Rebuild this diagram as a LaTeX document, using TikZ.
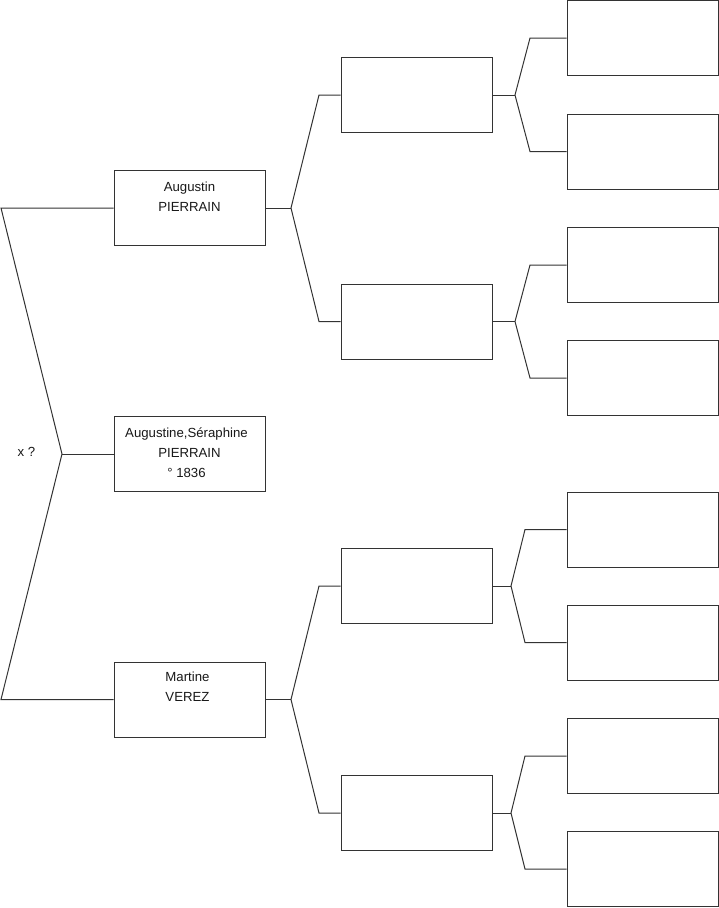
\documentclass[tikz,border=0pt]{standalone}
\usepackage{fontspec}
\setmainfont{Liberation Sans}
\begin{document}
\begin{tikzpicture}[x=1pt,y=-1pt,
  person/.style={draw=black!80, line width=1pt, minimum width=151pt, minimum height=75pt, inner sep=0pt, fill=white},
  ln/.style={font=\fontsize{13.2}{15}\selectfont, inner sep=0pt, anchor=base, text=black!90},
  wire/.style={draw=black!80, line width=1pt}]
\useasboundingbox (0,0) rectangle (719,908);
% generation 1
\node[person] (g1a) at (189.5,208) {};
\node[person] (g1b) at (189.5,454) {};
\node[person] (g1c) at (189.5,699.5) {};
% generation 2
\node[person] (g2a) at (416.5,95) {};
\node[person] (g2b) at (416.5,321.5) {};
\node[person] (g2c) at (416.5,586) {};
\node[person] (g2d) at (416.5,813) {};
% generation 3
\node[person] (g3a) at (642.5,38) {};
\node[person] (g3b) at (642.5,151.5) {};
\node[person] (g3c) at (642.5,265) {};
\node[person] (g3d) at (642.5,378) {};
\node[person] (g3e) at (642.5,529.5) {};
\node[person] (g3f) at (642.5,642.5) {};
\node[person] (g3g) at (642.5,756) {};
\node[person] (g3h) at (642.5,869) {};
% texts
\node[ln] (t1) at (189.5,191.5) {Augustin};
\node[ln] (t2) at (189.5,211) {PIERRAIN};
\node[ln] (t3) at (186.5,437.5) {Augustine,Séraphine};
\node[ln] (t4) at (189.5,457) {PIERRAIN};
\node[ln] (t5) at (186.5,477) {° 1836};
\node[ln] (t6) at (187.5,681.5) {Martine};
\node[ln] (t7) at (187.5,701.5) {VEREZ};
\node[ln] (tx) at (26.5,456) {x ?};
% left bracket
\coordinate (j0) at (62,454);
\coordinate (k0a) at (1,208);
\coordinate (k0c) at (1,699.5);
\draw[wire] (g1b.west) -- (j0);
\draw[wire] (g1a.west) -- (k0a) -- (j0) -- (k0c) -- (g1c.west);
% gen1 -> gen2
\coordinate (j1a) at (291,208);
\coordinate (k2a) at (319,95);
\coordinate (k2b) at (319,321.5);
\draw[wire] (g1a.east) -- (j1a);
\draw[wire] (g2a.west) -- (k2a) -- (j1a) -- (k2b) -- (g2b.west);
\coordinate (j1c) at (291,699.5);
\coordinate (k2c) at (319,586);
\coordinate (k2d) at (319,813);
\draw[wire] (g1c.east) -- (j1c);
\draw[wire] (g2c.west) -- (k2c) -- (j1c) -- (k2d) -- (g2d.west);
% gen2 -> gen3
\coordinate (j2a) at (515,95);
\coordinate (k3a) at (530,38);
\coordinate (k3b) at (530,151.5);
\draw[wire] (g2a.east) -- (j2a);
\draw[wire] (g3a.west) -- (k3a) -- (j2a) -- (k3b) -- (g3b.west);
\coordinate (j2b) at (515,321.5);
\coordinate (k3c) at (530,265);
\coordinate (k3d) at (530,378);
\draw[wire] (g2b.east) -- (j2b);
\draw[wire] (g3c.west) -- (k3c) -- (j2b) -- (k3d) -- (g3d.west);
\coordinate (j2c) at (511,586);
\coordinate (k3e) at (525,529.5);
\coordinate (k3f) at (525,642.5);
\draw[wire] (g2c.east) -- (j2c);
\draw[wire] (g3e.west) -- (k3e) -- (j2c) -- (k3f) -- (g3f.west);
\coordinate (j2d) at (511,813);
\coordinate (k3g) at (525,756);
\coordinate (k3h) at (525,869);
\draw[wire] (g2d.east) -- (j2d);
\draw[wire] (g3g.west) -- (k3g) -- (j2d) -- (k3h) -- (g3h.west);
\end{tikzpicture}
\end{document}
